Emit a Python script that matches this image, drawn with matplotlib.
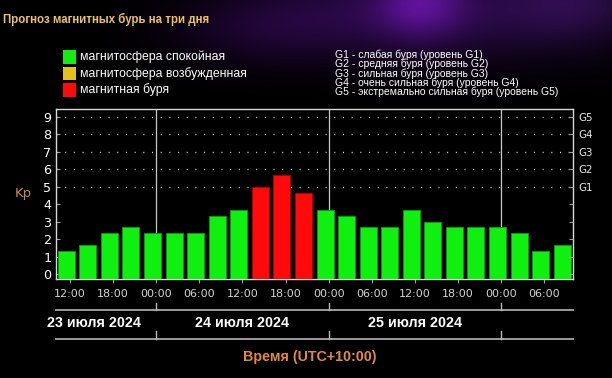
import numpy as np
import matplotlib
matplotlib.use('Agg')
import matplotlib.pyplot as plt
from matplotlib.patches import Rectangle
from matplotlib.lines import Line2D
import matplotlib.transforms as mtransforms

plt.rcParams['lines.scale_dashes'] = False

# ---------------- data ----------------
title = "Прогноз магнитных бурь на три дня"
kp_values = [1.33, 1.67, 2.33, 2.67, 2.33, 2.33, 2.33, 3.33, 3.67, 5.0, 5.67, 4.67,
             3.67, 3.33, 2.67, 2.67, 3.67, 3.0, 2.67, 2.67, 2.67, 2.33, 1.33, 1.67]
legend_labels = ["магнитосфера спокойная", "магнитосфера возбужденная", "магнитная буря"]
legend_colors = ["#10f010", "#e2c31a", "#ff0a0a"]
g_legend = ["G1 - слабая буря (уровень G1)",
            "G2 - средняя буря (уровень G2)",
            "G3 - сильная буря (уровень G3)",
            "G4 - очень сильная буря (уровень G4)",
            "G5 - экстремально сильная буря (уровень G5)"]
g_labels = ["G1", "G2", "G3", "G4", "G5"]
time_labels = ["12:00", "18:00", "00:00", "06:00", "12:00", "18:00",
               "00:00", "06:00", "12:00", "18:00", "00:00", "06:00"]
day_labels = ["23 июля 2024", "24 июля 2024", "25 июля 2024"]
x_title = "Время (UTC+10:00)"
y_title = "Kp"

# hours from 23 July 10:00 local (UTC+10)
slot_h = 3
first_tick_h = 2
midnights_h = [14, 38, 62]
day_label_h = [5.4, 26, 50]

W, H = 612, 378
fig = plt.figure(figsize=(W / 100, H / 100), dpi=100, facecolor='black')

def fy(py):
    return 1 - py / H

# ---------------- background glow ----------------
bg = fig.add_axes([0, 0, 1, 1], zorder=-5)
yy, xx = np.mgrid[0:H, 0:W]
img = np.zeros((H, W, 3))
blobs = [  # x, y, sx, sy, r, g, b
    (420, 0, 30, 25, 0.22, 0.04, 0.34),
    (470, 10, 90, 35, 0.13, 0.03, 0.22),
    (330, 15, 80, 30, 0.10, 0.02, 0.17),
    (580, 0, 50, 30, 0.12, 0.04, 0.20),
    (250, 30, 60, 25, 0.06, 0.01, 0.10),
]
for bx, by, sx, sy, r, g, b in blobs:
    f = np.exp(-((xx - bx) ** 2 / (2 * sx ** 2) + (yy - by) ** 2 / (2 * sy ** 2)))
    img[..., 0] += r * f
    img[..., 1] += g * f
    img[..., 2] += b * f
img = np.clip(img, 0, 1)
bg.imshow(img, extent=[0, W, H, 0], aspect='auto')
bg.set_xlim(0, W)
bg.set_ylim(H, 0)
bg.axis('off')

# ---------------- main axes ----------------
L, R, T, B = 55.5, 573, 109, 279
ax = fig.add_axes([L / W, 1 - B / H, (R - L) / W, (B - T) / H], facecolor='black')
ymin, ymax = -0.29, 9.46
n = len(kp_values)
ax.set_xlim(0, n * slot_h)
ax.set_ylim(ymin, ymax)

kp = np.array(kp_values)
centers = np.arange(n) * slot_h + slot_h / 2
colors = [legend_colors[2] if v >= 4.5 else (legend_colors[1] if v >= 4 else legend_colors[0]) for v in kp]
edges = ['#b00000' if v >= 4.5 else '#08a008' for v in kp]
ax.bar(centers, kp - ymin, bottom=ymin, width=2.37, color=colors, edgecolor=edges,
       linewidth=0.6, zorder=3)

for m in midnights_h:
    ax.axvline(m, color='#c8c8c8', lw=0.9, zorder=2)
for lvl in range(5, 10):
    ax.axhline(lvl, color='#d0d0d0', lw=1.0, linestyle=(0, (0.75, 5.5)), zorder=1)

for s in ax.spines.values():
    s.set_color('#d8d8d8')
    s.set_linewidth(1.0)

ax.set_yticks(range(0, 10))
ax.set_yticklabels([str(i) for i in range(10)], color='white', fontsize=9.2,
                   family='DejaVu Sans')
ax.tick_params(axis='y', direction='in', length=3, color='#a0a0a0', pad=3)
xt = np.arange(len(time_labels)) * 6 + first_tick_h
ax.set_xticks(xt)
ax.set_xticklabels(time_labels, color='#d4d4d4', fontsize=8, family='DejaVu Sans')
ax.tick_params(axis='x', direction='out', length=3, color='#a0a0a0', pad=4)

ax2 = ax.twinx()
ax2.set_ylim(ymin, ymax)
ax2.set_yticks(range(0, 10))
ax2.set_yticklabels([""] * 5 + g_labels, color='#e8e8e8', fontsize=7.4,
                    family='DejaVu Sans')
ax2.tick_params(axis='y', direction='in', length=3, color='#a0a0a0', pad=4)
for s in ax2.spines.values():
    s.set_visible(False)

ax.text(-0.063, 0.5, y_title, transform=ax.transAxes, color='#c8875a', fontsize=9.5,
        ha='center', va='center')

# ---------------- lower date band ----------------
bt = mtransforms.blended_transform_factory(ax.transData, fig.transFigure)
xmax = n * slot_h
for ly, tick_top in [(310, 303), (339, 331)]:
    fig.add_artist(Line2D([0, xmax], [fy(ly), fy(ly)], transform=bt, color='#a8a8a8', lw=1.3))
    for m in midnights_h:
        fig.add_artist(Line2D([m, m], [fy(ly), fy(tick_top)], transform=bt, color='#b8b8b8', lw=1.0))
for xh, lab in zip(day_label_h, day_labels):
    fig.text(xh, fy(323), lab, transform=bt, color='white', fontsize=10.3, fontweight='bold',
             family='Liberation Sans', ha='center', va='center')
fig.text(310 / W, fy(357), x_title, color='#e38a3a', fontsize=10.3, fontweight='bold',
         family='Liberation Sans', ha='center', va='center')

# ---------------- title and legends ----------------
fig.text(3 / W, fy(19), title, color='#e9c263', fontsize=8.3, fontweight='bold',
         family='Liberation Sans', ha='left', va='center')
for i, (lab, c) in enumerate(zip(legend_labels, legend_colors)):
    cy = 57 + i * 16.5
    fig.add_artist(Rectangle((63 / W, fy(cy + 6.5)), 13 / W, 13 / H, transform=fig.transFigure,
                             facecolor=c, edgecolor='none'))
    fig.text(80 / W, fy(cy), lab, color='white', fontsize=8.8, family='Liberation Sans',
             ha='left', va='center')
for i, lab in enumerate(g_legend):
    fig.text(335 / W, fy(55 + i * 9.2), lab, color='white', fontsize=7.5,
             family='Liberation Sans', ha='left', va='center')

fig.savefig('out.png', dpi=100, facecolor='black')
